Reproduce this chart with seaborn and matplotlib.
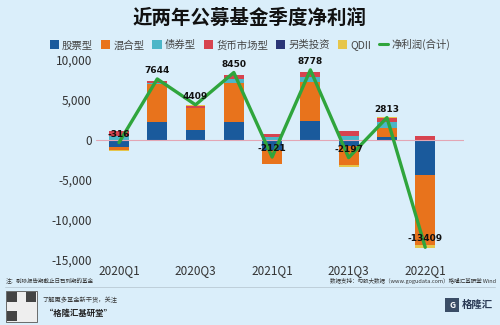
import matplotlib
matplotlib.use("Agg")
import matplotlib.pyplot as plt
import seaborn as sns
import numpy as np
import pandas as pd
from matplotlib.patches import Patch, Rectangle
from matplotlib.lines import Line2D

quarters = ["2020Q1", "2020Q2", "2020Q3", "2020Q4", "2021Q1", "2021Q2", "2021Q3", "2021Q4", "2022Q1"]
tick_labels = ["2020Q1", "", "2020Q3", "", "2021Q1", "", "2021Q3", "", "2022Q1"]
stock = [-880, 2300, 1300, 2200, -1250, 2350, -700, 420, -4350]
mixed = [-420, 4700, 2650, 4900, -1750, 4950, -2400, 1050, -8800]
bond = [560, 150, 50, 500, 350, 600, 550, 800, 30]
money = [540, 250, 300, 500, 380, 600, 550, 540, 470]
alt = [10, 10, 10, 20, 10, 30, 10, 10, -10]
qdii = [-120, 10, 20, 30, 10, 20, -250, 10, -350]
net = [-316, 7644, 4409, 8450, -2121, 8778, -2197, 2813, -13409]

series_names = ["股票型", "混合型", "债券型", "货币市场型", "另类投资", "QDII"]
series_vals = [stock, mixed, bond, money, alt, qdii]
colors = ["#1a5a9c", "#e8731c", "#4cb6c8", "#d7434f", "#2a3577", "#e6c64a"]
line_color = "#2fa53c"
bg = "#daeefa"

CJK = ["Noto Sans CJK SC", "DejaVu Sans"]
sns.set_theme(style="white")
plt.rcParams["font.family"] = CJK

fig = plt.figure(figsize=(5, 3.25), dpi=100, facecolor=bg)
ax = fig.add_axes([0.192, 0.2, 0.735, 0.615])
ax.set_facecolor(bg)

# cumulative stacks (positive and negative separately)
arr = np.array(series_vals, dtype=float)
pos = np.clip(arr, 0, None)
neg = np.clip(arr, None, 0)
cum_pos = np.cumsum(pos, axis=0)
cum_neg = np.cumsum(neg, axis=0)

for i in reversed(range(len(series_names))):
    for cum in (cum_pos, cum_neg):
        df = pd.DataFrame({"q": quarters, "v": cum[i]})
        sns.barplot(data=df, x="q", y="v", color=colors[i], width=0.52,
                    saturation=1, ax=ax, linewidth=0, errorbar=None)

ax.axhline(0, color="#e3a6b4", lw=0.8, zorder=1.5)

dfl = pd.DataFrame({"x": np.arange(len(quarters)), "net": net})
sns.lineplot(data=dfl, x="x", y="net", color=line_color, lw=2.4, ax=ax, zorder=5)

for i, v in enumerate(net):
    ax.annotate(str(v), (i, v), xytext=(0, 6), textcoords="offset points",
                ha="center", va="center", fontsize=6.5, fontweight="bold",
                color="#111111", zorder=6, family=["DejaVu Sans"])

ax.set_ylim(-15000, 10000)
ax.set_xlim(-0.6, 9.0)
ax.set_yticks([-15000, -10000, -5000, 0, 5000, 10000])
ax.set_yticklabels([f"{t:,}" for t in [-15000, -10000, -5000, 0, 5000, 10000]],
                   fontsize=8.5, color="#333333")
ax.set_xticks(range(len(quarters)))
ax.set_xticklabels(tick_labels, fontsize=8.5, color="#333333")
ax.tick_params(axis="both", length=0, pad=3)
ax.set_xlabel("")
ax.set_ylabel("")
for s in ax.spines.values():
    s.set_visible(False)

# title
fig.text(0.5, 0.945, "近两年公募基金季度净利润", ha="center", va="center",
         fontsize=14, fontweight="bold", color="#111111", family=CJK)

# legend
handles = [Patch(facecolor=c, edgecolor="none") for c in colors]
handles.append(Line2D([0], [0], color=line_color, lw=2.2))
labels = series_names + ["净利润(合计)"]
fig.legend(handles, labels, loc="center", bbox_to_anchor=(0.5, 0.862), ncol=7,
           frameon=False, fontsize=7.5, handlelength=0.9, handleheight=0.9,
           handletextpad=0.3, columnspacing=0.75, labelcolor="#444444")

# footer
fig.add_artist(Line2D([0.01, 0.99], [0.118, 0.118], color="#b9c9d4", lw=0.6))
fig.text(0.012, 0.135, "注：剔除报告期截止日已到期的基金", fontsize=4, color="#333333",
         va="center", family=CJK)
fig.text(0.992, 0.135, "数据支持：勾股大数据（www.gogudata.com）格隆汇基研堂 Wind",
         fontsize=4, color="#333333", va="center", ha="right", family=CJK)
fig.text(0.085, 0.077, "了解更多基金新干货，关注", fontsize=4.5, color="#333333",
         va="center", style="italic", family=CJK)
fig.text(0.09, 0.035, "“格隆汇基研堂”", fontsize=6, color="#222222",
         va="center", fontweight="bold", style="italic", family=CJK)

# QR placeholder
qx, qy, qs = 0.012, 0.008, 0.062
fig.add_artist(Rectangle((qx, qy), qs, qs * 500 / 325, transform=fig.transFigure,
                         facecolor="#eeeeee", edgecolor="#555555", lw=0.6))
for (dx, dy) in [(0, 0.62), (0.62, 0.62), (0, 0)]:
    fig.add_artist(Rectangle((qx + dx * qs + 0.002, qy + dy * qs * 500 / 325 + 0.003),
                             qs * 0.33, qs * 0.33 * 500 / 325, transform=fig.transFigure,
                             facecolor="#444444", edgecolor="none"))

# logo
fig.add_artist(Rectangle((0.89, 0.04), 0.028, 0.043, transform=fig.transFigure,
                         facecolor="#3a4d66", edgecolor="none"))
fig.text(0.904, 0.061, "G", fontsize=6, color="white", ha="center", va="center",
         fontweight="bold")
fig.text(0.985, 0.061, "格隆汇", fontsize=7.5, color="#2a3a55", va="center", ha="right",
         fontweight="bold", family=CJK)

fig.savefig("out.png", dpi=100, facecolor=bg)
